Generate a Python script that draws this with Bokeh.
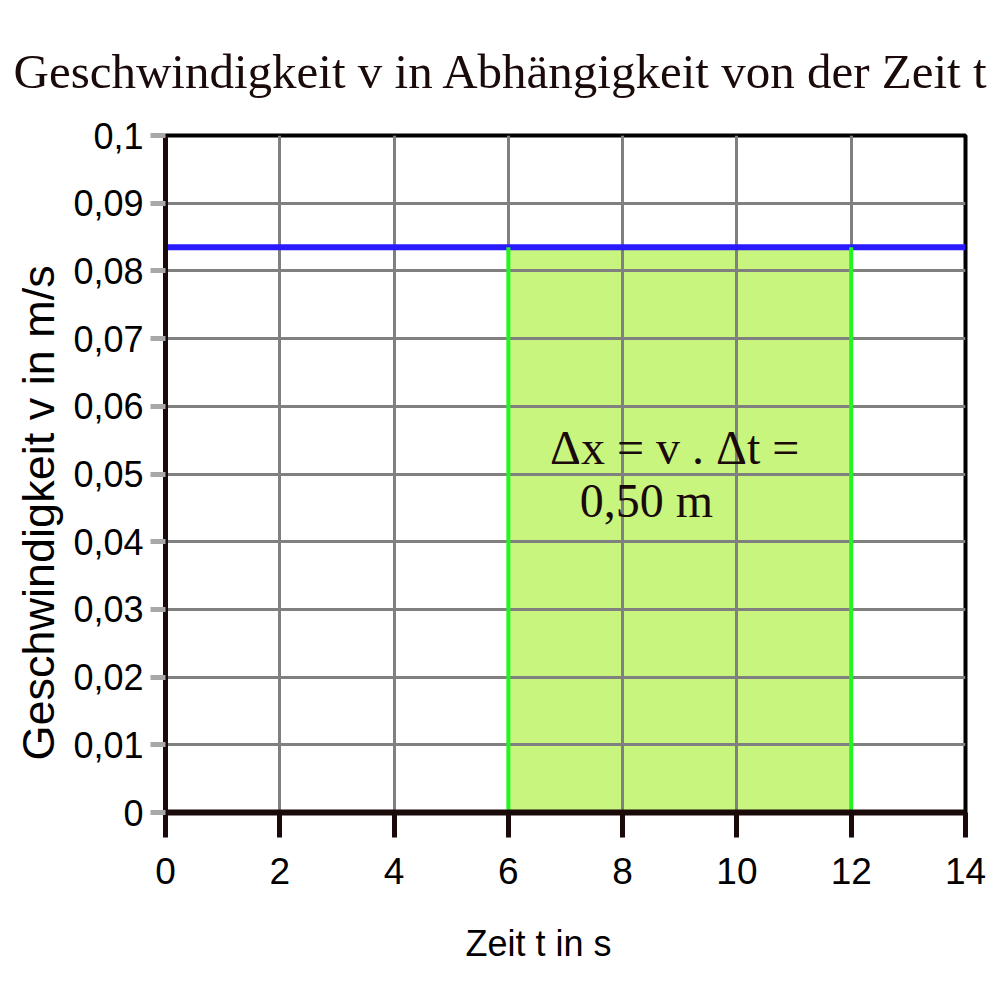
from bokeh.plotting import figure
from bokeh.models import Range1d, FixedTicker, CustomJSTickFormatter, Label, Title
from bokeh.embed import file_html
from bokeh.resources import INLINE

# ---- data ----
t_line = [0, 14]
v_line = [0.0835, 0.0835]
t_start = [6]
t_end = [12]
v_area = [0.0835]
seg_x = [6, 12]
seg_y0 = [0, 0]
seg_y1 = [0.0835, 0.0835]
x_ticks = [0, 2, 4, 6, 8, 10, 12, 14]
y_ticks = [0, 0.01, 0.02, 0.03, 0.04, 0.05, 0.06, 0.07, 0.08, 0.09, 0.1]

title_text = "Geschwindigkeit v  in Abhängigkeit von der Zeit t"
ylabel_text = "Geschwindigkeit v in m/s"
xlabel_text = "Zeit t in s"
note_line1 = "\u0394x = v . \u0394t ="
note_line2 = "0,50 m"

SANS = "Liberation Sans"
SERIF = "Liberation Serif"
DARK = "#1A0A0A"

p = figure(width=992, height=1000, output_backend="svg", toolbar_location=None,
           x_range=Range1d(0, 14), y_range=Range1d(0, 0.1),
           min_border_left=165, min_border_right=27,
           min_border_top=135, min_border_bottom=188)
p.background_fill_color = "white"
p.border_fill_color = "white"
p.outline_line_color = "black"
p.outline_line_width = 4

# grid
p.xgrid.ticker = FixedTicker(ticks=x_ticks)
p.ygrid.ticker = FixedTicker(ticks=y_ticks)
for g in (p.xgrid, p.ygrid):
    g.grid_line_color = "#808080"
    g.grid_line_width = 3
    g.level = "underlay"

# axes
xa = p.xaxis[0]
xa.ticker = FixedTicker(ticks=x_ticks)
xa.axis_line_color = DARK
xa.axis_line_width = 6
xa.major_tick_line_color = DARK
xa.major_tick_line_width = 5
xa.major_tick_out = 25
xa.major_tick_in = 0
xa.minor_tick_line_color = None
xa.major_label_text_font = SANS
xa.major_label_text_font_size = "37px"
xa.major_label_text_color = "black"
xa.major_label_standoff = 20

ya = p.yaxis[0]
ya.ticker = FixedTicker(ticks=y_ticks)
ya.formatter = CustomJSTickFormatter(code="return (Math.round(tick*100)/100).toString().replace('.', ',');")
ya.axis_line_color = DARK
ya.axis_line_width = 5
ya.major_tick_line_color = "#A8A8A8"
ya.major_tick_line_width = 5
ya.major_tick_out = 15
ya.major_tick_in = 0
ya.minor_tick_line_color = None
ya.major_label_text_font = SANS
ya.major_label_text_font_size = "36px"
ya.major_label_text_color = "black"
ya.major_label_standoff = 7

# shaded area
p.quad(left=t_start, right=t_end, bottom=[0], top=v_area,
       fill_color="#C8F57E", line_color=None, level="image")
# velocity line
p.line(t_line, v_line, line_color="#2A1AFF", line_width=6)
# boundary lines
p.segment(x0=seg_x, y0=seg_y0, x1=seg_x, y1=seg_y1,
          line_color="#22F522", line_width=4)

# titles / axis labels as side-panel titles
p.add_layout(Title(text=title_text, text_font=SERIF, text_font_size="49px",
                   text_color=DARK, text_font_style="normal",
                   align="left", offset=-152, standoff=74), "above")
p.add_layout(Title(text=ylabel_text, text_font=SANS, text_font_size="45px",
                   text_color="black", text_font_style="normal",
                   align="left", offset=52, standoff=14), "left")
p.add_layout(Title(text=xlabel_text, text_font=SANS, text_font_size="36px",
                   text_color="black", text_font_style="normal",
                   align="left", offset=300, standoff=68), "below")

# note inside the shaded area
p.add_layout(Label(x=6.73, y=0.0539, text=note_line1, text_font=SERIF,
                   text_font_size="48px", text_color=DARK,
                   text_baseline="alphabetic", text_align="left"))
p.add_layout(Label(x=7.25, y=0.0461, text=note_line2, text_font=SERIF,
                   text_font_size="48px", text_color=DARK,
                   text_baseline="alphabetic", text_align="left"))

open("out.html", "w").write(file_html(p, INLINE))
